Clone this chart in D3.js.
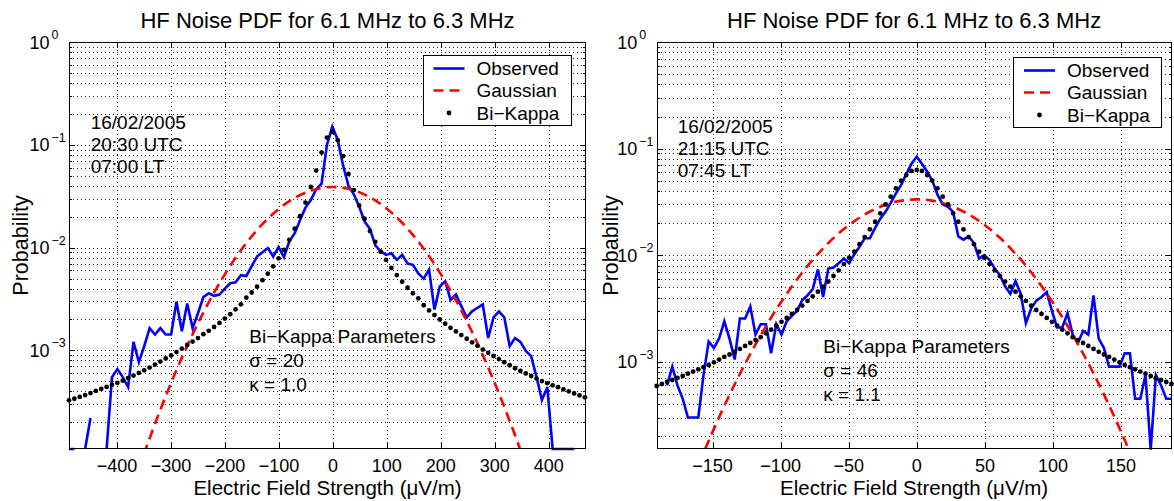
<!DOCTYPE html>
<html>
<head>
<meta charset="utf-8">
<script src="https://cdn.jsdelivr.net/npm/d3@7"></script>
<style>
  body { margin: 0; background: #fff; }
  text { font-family: "Liberation Sans", Arial, Helvetica, sans-serif; fill: #000; }
</style>
</head>
<body>
<script>

// ---- left panel: 20:30 UTC ----
// histogram bins start / spacing (uV/m)
const leftBinStart = -489, leftBinStep = 9.958;

// observed probability per bin (null = empty bin)
const observedLeft = [
  1.1e-4, 1.1e-4, null, 1.1e-4, 2.2e-4, null, null, 1.1e-4, 5.5e-4, 6.6e-4,
  5.5e-4, 4.4e-4, 1.21e-3, 7.7e-4, 1.1e-3, 1.65e-3, 1.43e-3, 1.65e-3, 1.43e-3, 1.43e-3,
  2.97e-3, 1.54e-3, 2.86e-3, 1.65e-3, 2.3e-3, 3.3e-3, 3.6e-3, 3.4e-3, 3.5e-3, 4.0e-3,
  4.5e-3, 4.6e-3, 5.4e-3, 5.3e-3, 6.6e-3, 8.2e-3, 9.0e-3, 9.9e-3, 8.2e-3, 1.01e-2,
  8.1e-3, 1.15e-2, 1.38e-2, 1.86e-2, 2.45e-2, 2.9e-2, 3.7e-2, 4.2e-2, 1.0e-1, 1.5e-1,
  1.12e-1, 6.3e-2, 4.0e-2, 3.3e-2, 2.5e-2, 1.8e-2, 1.52e-2, 1.05e-2, 9.2e-3, 8.5e-3,
  8.8e-3, 7.6e-3, 8.5e-3, 7.0e-3, 6.8e-3, 5.6e-3, 5.0e-3, 6.1e-3, 2.5e-3, 4.2e-3,
  4.7e-3, 3.1e-3, 3.5e-3, 2.7e-3, 2.1e-3, 2.4e-3, 2.6e-3, 2.8e-3, 1.32e-3, 2.1e-3,
  2.4e-3, 2.1e-3, 1.1e-3, 1.32e-3, 1.21e-3, 9.9e-4, 8.8e-4, 5.5e-4, 3.3e-4, 4.4e-4,
  1.1e-4, 1.1e-4, 1.1e-4, 1.1e-4, 1.1e-4, null, null
];

// bi-kappa fit at the same bins
const kappaLeft = [
  3.27e-4, 3.39e-4, 3.53e-4, 3.68e-4, 3.85e-4, 4.04e-4, 4.22e-4, 4.42e-4, 4.62e-4, 4.84e-4,
  5.08e-4, 5.38e-4, 5.70e-4, 6.05e-4, 6.41e-4, 6.81e-4, 7.28e-4, 7.80e-4, 8.36e-4, 8.95e-4,
  9.64e-4, 1.04e-3, 1.13e-3, 1.22e-3, 1.32e-3, 1.44e-3, 1.55e-3, 1.69e-3, 1.85e-3, 2.04e-3,
  2.25e-3, 2.51e-3, 2.81e-3, 3.27e-3, 3.66e-3, 4.17e-3, 4.82e-3, 5.58e-3, 6.58e-3, 7.87e-3,
  9.53e-3, 1.19e-2, 1.53e-2, 2.02e-2, 2.74e-2, 3.89e-2, 5.62e-2, 8.41e-2, 1.175e-1, 1.337e-1,
  1.109e-1, 7.76e-2, 5.21e-2, 3.63e-2, 2.57e-2, 1.91e-2, 1.45e-2, 1.14e-2, 9.14e-3, 7.59e-3,
  6.35e-3, 5.41e-3, 4.67e-3, 4.07e-3, 3.60e-3, 3.21e-3, 2.75e-3, 2.45e-3, 2.21e-3, 2.00e-3,
  1.82e-3, 1.66e-3, 1.53e-3, 1.41e-3, 1.30e-3, 1.20e-3, 1.11e-3, 1.02e-3, 9.48e-4, 8.83e-4,
  8.24e-4, 7.69e-4, 7.18e-4, 6.71e-4, 6.32e-4, 5.97e-4, 5.64e-4, 5.32e-4, 5.04e-4, 4.80e-4,
  4.58e-4, 4.39e-4, 4.19e-4, 4.00e-4, 3.82e-4, 3.65e-4, 3.50e-4
];

// gaussian fit, read every 20 uV/m
const gaussXLeft = d3.range(-360, 361, 20);
const gaussLeft = [
  6.96e-5, 1.38e-4, 2.62e-4, 4.81e-4, 8.47e-4, 1.435e-3, 2.34e-3, 3.66e-3, 5.52e-3, 8.0e-3,
  1.115e-2, 1.495e-2, 1.93e-2, 2.39e-2, 2.85e-2, 3.26e-2, 3.60e-2, 3.81e-2, 3.89e-2, 3.81e-2,
  3.60e-2, 3.26e-2, 2.85e-2, 2.39e-2, 1.93e-2, 1.495e-2, 1.115e-2, 8.0e-3, 5.52e-3, 3.66e-3,
  2.34e-3, 1.435e-3, 8.47e-4, 4.81e-4, 2.62e-4, 1.38e-4, 6.96e-5
];

const xTicksLeft = [-400, -300, -200, -100, 0, 100, 200, 300, 400];
const infoLeft = ["16/02/2005", "20:30 UTC", "07:00 LT"];
const paramsLeft = ["Bi\u2212Kappa Parameters", "\u03c3 = 20", "\u03ba = 1.0"];

// ---- right panel: 21:15 UTC ----
const rightBinStart = -191, rightBinStep = 3.8182;

const observedRight = [
  3.0e-4, null, 6.0e-4, 9.0e-4, 6.0e-4, 4.5e-4, 3.0e-4, 3.0e-4, 3.0e-4, 7.5e-4,
  1.55e-3, 1.35e-3, 1.65e-3, 2.4e-3, 1.65e-3, 1.05e-3, 2.55e-3, 2.55e-3, 3.3e-3, 1.8e-3,
  2.25e-3, 2.25e-3, 1.2e-3, 2.25e-3, 1.8e-3, 2.4e-3, 2.7e-3, 3.0e-3, 3.8e-3, 4.2e-3,
  4.8e-3, 7.35e-3, 4.05e-3, 7.5e-3, 7.65e-3, 8.4e-3, 9.3e-3, 8.4e-3, 1.02e-2, 1.2e-2,
  1.44e-2, 1.44e-2, 1.8e-2, 2.2e-2, 2.55e-2, 3.1e-2, 3.8e-2, 4.55e-2, 5.8e-2, 7.2e-2,
  8.4e-2, 7.2e-2, 6.1e-2, 5.0e-2, 3.7e-2, 3.0e-2, 2.85e-2, 2.55e-2, 1.5e-2, 1.4e-2,
  1.5e-2, 1.3e-2, 9.3e-3, 1.0e-2, 9.0e-3, 7.5e-3, 6.5e-3, 5.1e-3, 4.35e-3, 5.7e-3,
  4.35e-3, 2.3e-3, 3.15e-3, 3.75e-3, 4.05e-3, 4.5e-3, 3.0e-3, 2.1e-3, 2.1e-3, 2.85e-3,
  1.8e-3, 1.5e-3, 1.95e-3, 1.8e-3, 4.2e-3, 1.65e-3, 1.35e-3, 9.0e-4, 9.0e-4, 9.0e-4,
  1.2e-3, 1.2e-3, 4.5e-4, 4.5e-4, 7.5e-4, 1.5e-4, 7.5e-4, 6.0e-4, 4.5e-4, 4.5e-4
];

const kappaRight = [
  5.93e-4, 6.19e-4, 6.46e-4, 6.75e-4, 7.05e-4, 7.36e-4, 7.73e-4, 8.09e-4, 8.49e-4, 8.91e-4,
  9.33e-4, 9.89e-4, 1.05e-3, 1.11e-3, 1.17e-3, 1.24e-3, 1.32e-3, 1.41e-3, 1.50e-3, 1.60e-3,
  1.70e-3, 1.85e-3, 2.00e-3, 2.18e-3, 2.37e-3, 2.58e-3, 2.81e-3, 3.06e-3, 3.37e-3, 3.72e-3,
  4.11e-3, 4.55e-3, 5.07e-3, 5.65e-3, 6.38e-3, 7.21e-3, 8.26e-3, 9.46e-3, 1.08e-2, 1.27e-2,
  1.48e-2, 1.75e-2, 2.06e-2, 2.47e-2, 2.99e-2, 3.54e-2, 4.24e-2, 5.00e-2, 5.65e-2, 6.17e-2,
  6.31e-2, 6.17e-2, 5.65e-2, 5.00e-2, 4.24e-2, 3.54e-2, 2.99e-2, 2.47e-2, 2.06e-2, 1.75e-2,
  1.48e-2, 1.27e-2, 1.08e-2, 9.46e-3, 8.26e-3, 7.21e-3, 6.38e-3, 5.65e-3, 5.07e-3, 4.55e-3,
  4.11e-3, 3.72e-3, 3.37e-3, 3.06e-3, 2.81e-3, 2.58e-3, 2.37e-3, 2.18e-3, 2.00e-3, 1.85e-3,
  1.70e-3, 1.60e-3, 1.50e-3, 1.41e-3, 1.32e-3, 1.24e-3, 1.17e-3, 1.11e-3, 1.05e-3, 9.89e-4,
  9.33e-4, 8.91e-4, 8.49e-4, 8.09e-4, 7.73e-4, 7.36e-4, 7.05e-4, 6.75e-4, 6.46e-4, 6.19e-4
];

const gaussXRight = d3.range(-160, 161, 10);
const gaussRight = [
  1.1e-4, 2.2e-4, 4.2e-4, 7.67e-4, 1.34e-3, 2.24e-3, 3.58e-3, 5.47e-3, 8.0e-3, 1.118e-2,
  1.496e-2, 1.91e-2, 2.34e-2, 2.73e-2, 3.06e-2, 3.27e-2, 3.34e-2, 3.27e-2, 3.06e-2, 2.73e-2,
  2.34e-2, 1.91e-2, 1.496e-2, 1.118e-2, 8.0e-3, 5.47e-3, 3.58e-3, 2.24e-3, 1.34e-3, 7.67e-4,
  4.2e-4, 2.2e-4, 1.1e-4
];

const xTicksRight = [-150, -100, -50, 0, 50, 100, 150];
const infoRight = ["16/02/2005", "21:15 UTC", "07:45 LT"];
const paramsRight = ["Bi\u2212Kappa Parameters", "\u03c3 = 46", "\u03ba = 1.1"];

const titleText = "HF Noise PDF for 6.1 MHz to 6.3 MHz";
const legendNames = ["Observed", "Gaussian", "Bi\u2212Kappa"];

const width = 1174, height = 501;
const svg = d3.select("body").append("svg")
    .attr("width", width)
    .attr("height", height);

const fmtTick = d => d < 0 ? "\u2212" + Math.abs(d) : String(d);

function drawPanel(p) {
    const g = svg.append("g");
    const x = d3.scaleLinear().domain(p.xDomain).range([p.left, p.right]);
    const y = d3.scaleLog().domain([p.yMin, 1]).range([p.bottom, p.top]);

    const defs = svg.append("defs");
    defs.append("clipPath").attr("id", p.id + "-clip").append("rect")
        .attr("x", p.left).attr("y", p.top)
        .attr("width", p.right - p.left).attr("height", p.bottom - p.top);
    defs.append("clipPath").attr("id", p.id + "-clipw").append("rect")
        .attr("x", p.left - 2).attr("y", p.top - 2)
        .attr("width", p.right - p.left + 4).attr("height", p.bottom - p.top + 4);

    // dotted grid
    const yGrid = y.ticks().filter(v => v > p.yMin * 1.001 && v < 0.999);
    g.append("g").selectAll("line").data(yGrid).join("line")
        .attr("x1", p.left).attr("x2", p.right)
        .attr("y1", d => Math.round(y(d)) + 0.5).attr("y2", d => Math.round(y(d)) + 0.5)
        .attr("stroke", "#222").attr("stroke-width", 1)
        .attr("stroke-dasharray", "1,3")
        .attr("shape-rendering", "crispEdges");
    g.append("g").selectAll("line").data(p.xTicks).join("line")
        .attr("x1", d => Math.round(x(d)) + 0.5).attr("x2", d => Math.round(x(d)) + 0.5)
        .attr("y1", p.top).attr("y2", p.bottom)
        .attr("stroke", "#222").attr("stroke-width", 1)
        .attr("stroke-dasharray", "1,3")
        .attr("shape-rendering", "crispEdges");

    // ticks (inside)
    const tk = g.append("g").attr("stroke", "#000").attr("stroke-width", 1)
        .attr("shape-rendering", "crispEdges");
    p.xTicks.forEach(d => {
        const xx = Math.round(x(d)) + 0.5;
        tk.append("line").attr("x1", xx).attr("x2", xx).attr("y1", p.bottom).attr("y2", p.bottom - 6);
        tk.append("line").attr("x1", xx).attr("x2", xx).attr("y1", p.top).attr("y2", p.top + 6);
    });
    y.ticks().filter(v => v > p.yMin).forEach(v => {
        const yy = Math.round(y(v)) + 0.5;
        const major = Math.abs(Math.log10(v) - Math.round(Math.log10(v))) < 1e-6;
        const len = major ? 6 : 3;
        tk.append("line").attr("x1", p.left).attr("x2", p.left + len).attr("y1", yy).attr("y2", yy);
        tk.append("line").attr("x1", p.right).attr("x2", p.right - len).attr("y1", yy).attr("y2", yy);
    });

    // observed
    const bins = d3.range(p.observed.length).map(i => p.binStart + i * p.binStep);
    const obsPts = bins.map((b, i) => ({ x: b, p: p.observed[i] }));
    const line = d3.line()
        .defined(d => d.p != null)
        .x(d => x(d.x)).y(d => y(d.p));
    g.append("path").datum(obsPts)
        .attr("clip-path", `url(#${p.id}-clipw)`)
        .attr("d", line)
        .attr("fill", "none").attr("stroke", "#0000ff")
        .attr("stroke-width", 2.6).attr("stroke-linejoin", "miter");

    // gaussian
    const gPts = p.gaussX.map((gx, i) => ({ x: gx, p: p.gauss[i] }));
    g.append("path").datum(gPts)
        .attr("clip-path", `url(#${p.id}-clip)`)
        .attr("d", line.curve(d3.curveMonotoneX))
        .attr("fill", "none").attr("stroke", "#ff0000")
        .attr("stroke-width", 2.6).attr("stroke-dasharray", "10,6");

    // bi-kappa dots
    const kPts = bins.map((b, i) => ({ x: b, p: p.kappa[i] }));
    g.append("g").selectAll("circle").data(kPts).join("circle")
        .attr("cx", d => x(d.x)).attr("cy", d => y(d.p))
        .attr("r", 2.4).attr("fill", "#000");

    // box
    g.append("rect")
        .attr("x", p.left + 0.5).attr("y", p.top + 0.5)
        .attr("width", p.right - p.left - 1).attr("height", p.bottom - p.top - 1)
        .attr("fill", "none").attr("stroke", "#000").attr("stroke-width", 1)
        .attr("shape-rendering", "crispEdges");

    // tick labels
    g.append("g").selectAll("text").data(p.xTicks).join("text")
        .attr("x", d => x(d)).attr("y", p.bottom + 22.5)
        .attr("text-anchor", "middle").attr("font-size", 18)
        .text(fmtTick);
    [0, -1, -2, -3].forEach(e => {
        const yy = y(Math.pow(10, e));
        g.append("text").attr("x", p.left - 19.5).attr("y", yy + 6.5)
            .attr("text-anchor", "end").attr("font-size", 18).text("10");
        g.append("text").attr("x", p.left - 17.5).attr("y", yy - 3)
            .attr("font-size", 12.5).text(e === 0 ? "0" : "\u2212" + (-e));
    });

    // titles
    const cx = (p.left + p.right) / 2;
    g.append("text").attr("x", cx).attr("y", 28)
        .attr("text-anchor", "middle").attr("font-size", 22).text(titleText);
    g.append("text").attr("x", cx).attr("y", 495)
        .attr("text-anchor", "middle").attr("font-size", 20.5)
        .text("Electric Field Strength (\u03bcV/m)");
    g.append("text")
        .attr("transform", `translate(${p.ylabelX},${(p.top + p.bottom) / 2}) rotate(-90)`)
        .attr("text-anchor", "middle").attr("font-size", 21.5).text("Probability");

    // annotations
    p.info.forEach((t, i) => {
        g.append("text").attr("x", p.infoX).attr("y", p.infoY + i * 22)
            .attr("font-size", 19).text(t);
    });
    p.params.forEach((t, i) => {
        g.append("text").attr("x", p.paramX).attr("y", p.paramY + i * 24)
            .attr("font-size", 19).text(t);
    });

    // legend
    const lg = g.append("g").attr("transform", `translate(${p.legendX},${p.legendY})`);
    lg.append("rect").attr("x", 0.5).attr("y", 0.5).attr("width", 148).attr("height", 70)
        .attr("fill", "#fff").attr("stroke", "#000").attr("stroke-width", 1)
        .attr("shape-rendering", "crispEdges");
    const rowY = [13.5, 35.5, 58];
    lg.append("line").attr("x1", 11).attr("x2", 42).attr("y1", rowY[0]).attr("y2", rowY[0])
        .attr("stroke", "#0000ff").attr("stroke-width", 2.6);
    lg.append("line").attr("x1", 11).attr("x2", 42).attr("y1", rowY[1]).attr("y2", rowY[1])
        .attr("stroke", "#ff0000").attr("stroke-width", 2.6).attr("stroke-dasharray", "10,6");
    lg.append("circle").attr("cx", 26.5).attr("cy", rowY[2]).attr("r", 2.4).attr("fill", "#000");
    legendNames.forEach((n, i) => {
        lg.append("text").attr("x", 54).attr("y", rowY[i] + 6.8)
            .attr("font-size", 19).text(n);
    });
}

drawPanel({
    id: "left", left: 69, right: 586, top: 42, bottom: 449,
    xDomain: [-489, 469], yMin: 1.1e-4, xTicks: xTicksLeft,
    binStart: leftBinStart, binStep: leftBinStep,
    observed: observedLeft, kappa: kappaLeft, gaussX: gaussXLeft, gauss: gaussLeft,
    info: infoLeft, infoX: 90.7, infoY: 129.3,
    params: paramsLeft, paramX: 249.3, paramY: 343,
    legendX: 422.5, legendY: 55, ylabelX: 28
});

drawPanel({
    id: "right", left: 656.7, right: 1171.5, top: 42, bottom: 449,
    xDomain: [-191, 187], yMin: 1.52e-4, xTicks: xTicksRight,
    binStart: rightBinStart, binStep: rightBinStep,
    observed: observedRight, kappa: kappaRight, gaussX: gaussXRight, gauss: gaussRight,
    info: infoRight, infoX: 677.7, infoY: 133,
    params: paramsRight, paramX: 823.3, paramY: 353,
    legendX: 1013, legendY: 57, ylabelX: 617.5
});

</script>
</body>
</html>
